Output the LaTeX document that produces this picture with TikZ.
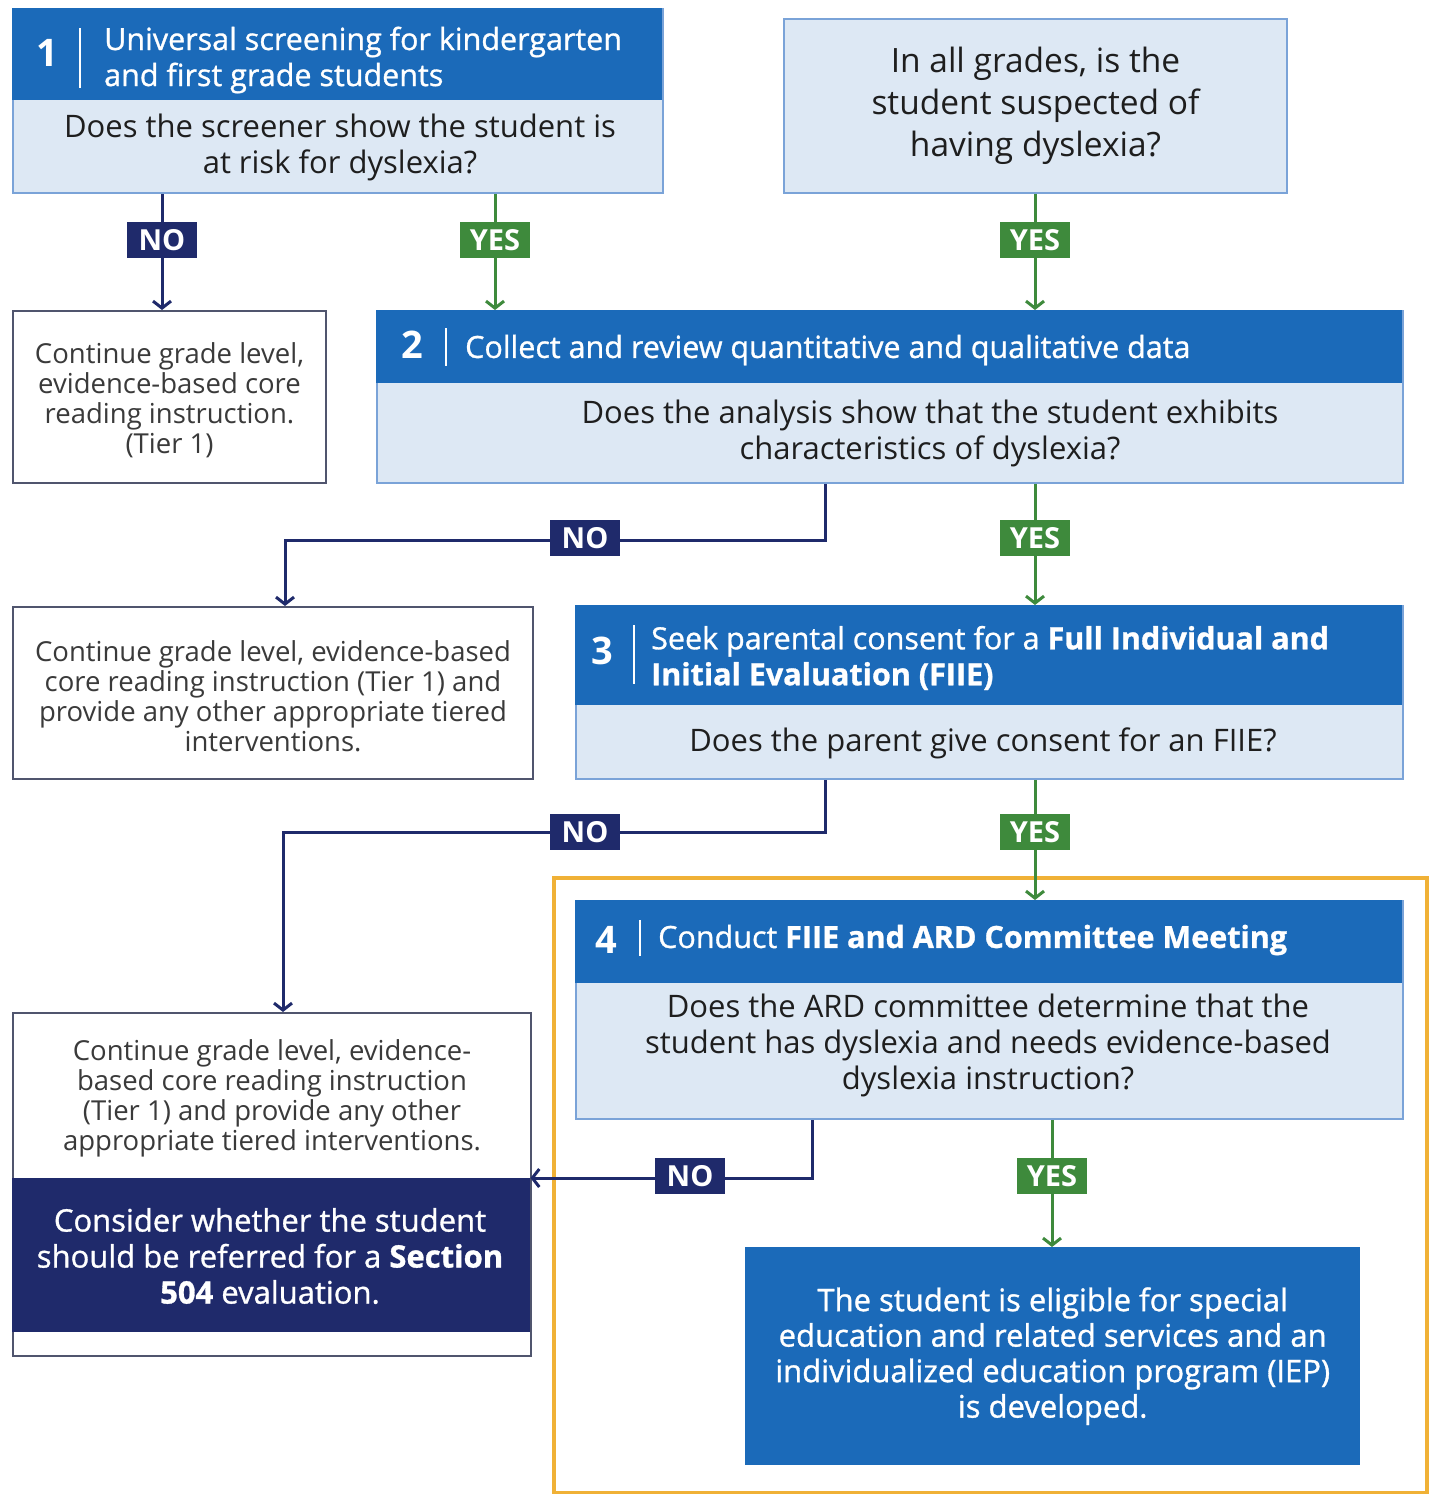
\documentclass[tikz,border=0pt]{standalone}
\usepackage{fontspec}
\setmainfont{Open Sans}
\newfontfamily\semib{Open Sans}[FakeBold=1]
\usetikzlibrary{arrows.meta}
\definecolor{hdrblue}{HTML}{1B6AB9}
\definecolor{lightbg}{HTML}{DDE8F4}
\definecolor{bordblue}{HTML}{7AA3D8}
\definecolor{navy}{HTML}{1F2A6B}
\definecolor{grn}{HTML}{3E8A3C}
\definecolor{orng}{HTML}{F0B136}
\definecolor{wbord}{HTML}{50556E}
\definecolor{txt}{HTML}{1E1E1E}
\definecolor{gtxt}{HTML}{3A3A3A}
\newcommand\myfs[2]{\fontsize{#1}{#2}\selectfont}
\begin{document}
\begin{tikzpicture}[x=1pt,y=-1pt,
  qbox/.style={draw=bordblue, line width=2pt, fill=lightbg, anchor=north west, inner sep=0pt},
  hdr/.style={fill=hdrblue, anchor=north west, inner sep=0pt},
  wbox/.style={draw=wbord, line width=2pt, fill=white, anchor=north west, inner sep=0pt},
  hdrtxt/.style={text=white, align=left, anchor=west, inner sep=0pt, yshift=-3pt, font=\semib\myfs{30.5}{36}},
  numtxt/.style={text=white, inner sep=0pt, font=\bfseries\myfs{38}{38}},
  qtxt/.style={text=txt, align=center, inner sep=0pt, yshift=-3pt, font=\myfs{31}{36}},
  wtxt/.style={text=gtxt, align=center, inner sep=0pt, yshift=-3pt, font=\myfs{27.5}{30}},
  divl/.style={draw=white, line width=1.5pt},
  noarr/.style={draw=navy, line width=3pt, -{Straight Barb[length=7pt,width=18pt,line width=3pt]}},
  yesarr/.style={draw=grn, line width=3pt, -{Straight Barb[length=7pt,width=18pt,line width=3pt]}},
  nolab/.style={fill=navy, text=white, font=\bfseries\myfs{29}{29}, minimum width=70pt, minimum height=36pt, inner sep=0pt},
  yeslab/.style={fill=grn, text=white, font=\bfseries\myfs{29}{29}, minimum width=70pt, minimum height=36pt, inner sep=0pt}
]
\useasboundingbox (0,0) rectangle (1429,1494);

% Box 1
\node[qbox, minimum width=650pt, minimum height=184pt] (b1) at (12,8) {};
\node[hdr, minimum width=650pt, minimum height=92pt] (b1h) at (12,8) {};
\node[numtxt] (num1) at (47,53) {1};
\draw[divl] (80,28) -- (80,88);
\node[hdrtxt] (t1) at (104,57) {Universal screening for kindergarten\\and first grade students};
\node[qtxt] (q1) at (340,144) {Does the screener show the student is\\at risk for dyslexia?};

% Box 0 (top right)
\node[qbox, minimum width=503pt, minimum height=174pt, align=center, text=txt, font=\myfs{33.5}{42}] (b0) at (783,18) {In all grades, is the\\student suspected of\\having dyslexia?};

% White box 1
\node[wbox, minimum width=313pt, minimum height=172pt] (w1) at (12,310) {};
\node[wtxt] (w1t) at (w1.center) {Continue grade level,\\evidence-based core\\reading instruction.\\(Tier 1)};

% Box 2
\node[qbox, minimum width=1026pt, minimum height=172pt] (b2) at (376,310) {};
\node[hdr, minimum width=1026pt, minimum height=73pt] (b2h) at (376,310) {};
\node[numtxt] (num2) at (412,345) {2};
\draw[divl] (446,328) -- (446,366);
\node[hdrtxt] (t2) at (465,347) {Collect and review quantitative and qualitative data};
\node[qtxt] (q2) at (930,430) {Does the analysis show that the student exhibits\\characteristics of dyslexia?};

% White box 2
\node[wbox, minimum width=520pt, minimum height=172pt] (w2) at (12,606) {};
\node[wtxt] (w2t) at (w2.center) {Continue grade level, evidence-based\\core reading instruction (Tier 1) and\\provide any other appropriate tiered\\interventions.};

% Box 3
\node[qbox, minimum width=827pt, minimum height=173pt] (b3) at (575,605) {};
\node[hdr, minimum width=827pt, minimum height=100pt] (b3h) at (575,605) {};
\node[numtxt] (num3) at (602,651) {3};
\draw[divl] (634,625) -- (634,684);
\node[hdrtxt] (t3) at (651,655) {Seek parental consent for a \textbf{Full Individual and}\\\textbf{Initial Evaluation (FIIE)}};
\node[qtxt] (q3) at (983,740) {Does the parent give consent for an FIIE?};

% Orange frame
\node[draw=orng, line width=4pt, minimum width=873pt, minimum height=615pt, anchor=north west, inner sep=0pt] (frame) at (552,876) {};

% Box 4
\node[qbox, minimum width=827pt, minimum height=218pt] (b4) at (575,900) {};
\node[hdr, minimum width=827pt, minimum height=83pt] (b4h) at (575,900) {};
\node[numtxt] (num4) at (606,940) {4};
\draw[divl] (640,920) -- (640,956);
\node[hdrtxt] (t4) at (658,937) {Conduct \textbf{FIIE and ARD Committee Meeting}};
\node[qtxt] (q4) at (988,1042) {Does the ARD committee determine that the\\student has dyslexia and needs evidence-based\\dyslexia instruction?};

% Final box
\node[fill=hdrblue, minimum width=615pt, minimum height=218pt, anchor=north west, inner sep=0pt, text=white, align=center, font=\semib\myfs{31}{35.5}] (fin) at (745,1247) {The student is eligible for special\\education and related services and an\\individualized education program (IEP)\\is developed.};

% Left bottom box
\node[wbox, minimum width=518pt, minimum height=343pt] (lb) at (12,1012) {};
\node[fill=navy, minimum width=518pt, minimum height=154pt, anchor=north west, inner sep=0pt] (lbn) at (12,1178) {};
\node[wtxt] (lbt) at (272,1095) {Continue grade level, evidence-\\based core reading instruction\\(Tier 1) and provide any other\\appropriate tiered interventions.};
\node[qtxt, text=white, font=\semib\myfs{31}{36}] (lbnt) at (270,1253) {Consider whether the student\\should be referred for a \textbf{Section}\\\textbf{504} evaluation.};

% Connectors
\coordinate (n1) at (162,240);
\coordinate (y1) at (495,240);
\coordinate (y0) at (1035,240);
\coordinate (n2) at (585,538);
\coordinate (n2r) at (825,540);
\coordinate (n2l) at (285,540);
\coordinate (y2) at (1035,538);
\coordinate (n3) at (585,832);
\coordinate (n3r) at (825,832);
\coordinate (n3l) at (283,832);
\coordinate (y3) at (1035,832);
\coordinate (n4) at (690,1176);
\coordinate (n4r) at (812,1178);
\coordinate (y4) at (1052,1176);

\draw[noarr] (b1.south -| n1) -- (w1.north -| n1);
\draw[yesarr] (b1.south -| y1) -- (b2.north -| y1);
\draw[yesarr] (b0.south -| y0) -- (b2.north -| y0);
\draw[noarr] (b2.south -| n2r) -- (n2r) -- (n2l) -- (w2.north -| n2l);
\draw[yesarr] (b2.south -| y2) -- (b3.north -| y2);
\draw[noarr] (b3.south -| n3r) -- (n3r) -- (n3l) -- (lb.north -| n3l);
\draw[yesarr] (b3.south -| y3) -- (b4.north -| y3);
\draw[noarr] (b4.south -| n4r) -- (n4r) -- (lbn.north east);
\draw[yesarr] (b4.south -| y4) -- (fin.north -| y4);

\node[nolab] (ln1) at (n1) {NO};
\node[yeslab] (ly1) at (y1) {YES};
\node[yeslab] (ly0) at (y0) {YES};
\node[nolab] (ln2) at (n2) {NO};
\node[yeslab] (ly2) at (y2) {YES};
\node[nolab] (ln3) at (n3) {NO};
\node[yeslab] (ly3) at (y3) {YES};
\node[nolab] (ln4) at (n4) {NO};
\node[yeslab] (ly4) at (y4) {YES};
\end{tikzpicture}
\end{document}
